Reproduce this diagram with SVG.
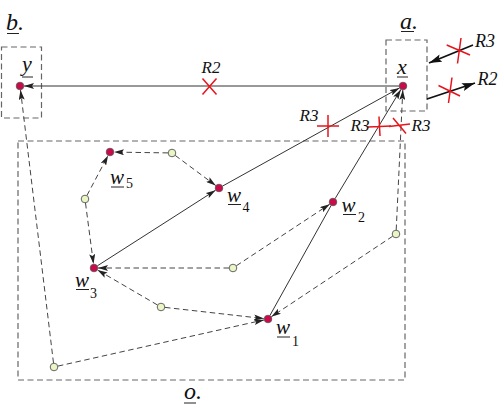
<svg xmlns="http://www.w3.org/2000/svg" width="503" height="415" viewBox="0 0 503 415">
<style>
.box{fill:none;stroke:#666;stroke-width:1.2;stroke-dasharray:6,3.5}
.sol{fill:none;stroke:#333;stroke-width:1}
.dsh{fill:none;stroke:#444;stroke-width:1;stroke-dasharray:5.5,3.5}
.big{fill:none;stroke:#111;stroke-width:1.8}
.red{fill:none;stroke:#e8141c;stroke-width:1.5}
.pt{fill:#cc0a4a;stroke:#555;stroke-width:0.8}
.gp{fill:#eaf6c6;stroke:#666;stroke-width:1}
.lb{font-family:"Liberation Serif",serif;font-style:italic;fill:#111}
.sb{font-family:"Liberation Serif",serif;fill:#111;font-size:14px}
.ul{stroke:#222;stroke-width:1}
</style>
<defs>
<marker id="ah" viewBox="0 0 10 6" refX="10" refY="3" markerWidth="10" markerHeight="6" orient="auto" markerUnits="userSpaceOnUse"><path d="M0,0 L10,3 L0,6 L2,3 z" fill="#222"/></marker>
<marker id="ahb" viewBox="0 0 13 8" refX="13" refY="4" markerWidth="13" markerHeight="8" orient="auto" markerUnits="userSpaceOnUse"><path d="M0,0 L13,4 L0,8 L2.5,4 z" fill="#111"/></marker>
</defs>

<g id="boxes">
<rect class="box" x="1.5" y="47" width="40" height="71"/>
<rect class="box" x="386" y="40" width="41" height="71"/>
<rect class="box" x="18" y="141" width="387" height="239"/>
<text class="lb" x="6" y="30" font-size="24">b.</text>
<line class="ul" x1="7" y1="33.5" x2="19" y2="33.5"/>
<text class="lb" x="400" y="28.5" font-size="24">a.</text>
<line class="ul" x1="401" y1="31.5" x2="414" y2="31.5"/>
<text class="lb" x="184" y="399" font-size="24">o.</text>
<line class="ul" x1="184" y1="403" x2="196" y2="403"/>
</g>

<g id="connectors">
<line class="sol" x1="399" y1="86" x2="24" y2="86" marker-end="url(#ah)"/>
<line class="sol" x1="97.4" y1="265.8" x2="215.6" y2="190.2" marker-end="url(#ah)"/>
<line class="sol" x1="222.5" y1="186.1" x2="399.5" y2="87.9" marker-end="url(#ah)"/>
<line class="sol" x1="269.9" y1="315.5" x2="331.1" y2="205.5"/>
<line class="sol" x1="335.1" y1="198.6" x2="400.9" y2="89.4" marker-end="url(#ah)"/>
<line class="dsh" x1="168" y1="152.9" x2="114" y2="152.1" marker-end="url(#ah)"/>
<line class="dsh" x1="175.2" y1="155.4" x2="215.8" y2="185.6" marker-end="url(#ah)"/>
<line class="dsh" x1="86.9" y1="195.5" x2="108.1" y2="155.5" marker-end="url(#ah)"/>
<line class="dsh" x1="85.5" y1="203" x2="93.5" y2="264" marker-end="url(#ah)"/>
<line class="dsh" x1="229" y1="268" x2="98" y2="268" marker-end="url(#ah)"/>
<line class="dsh" x1="236.3" y1="265.8" x2="329.7" y2="204.2" marker-end="url(#ah)"/>
<line class="dsh" x1="396.2" y1="230" x2="402.8" y2="90" marker-end="url(#ah)"/>
<line class="dsh" x1="392.7" y1="236.2" x2="271.3" y2="316.8" marker-end="url(#ah)"/>
<line class="dsh" x1="157.5" y1="305" x2="97.5" y2="270" marker-end="url(#ah)"/>
<line class="dsh" x1="165" y1="307.4" x2="264" y2="318.6" marker-end="url(#ah)"/>
<line class="dsh" x1="53.5" y1="363" x2="20.5" y2="90" marker-end="url(#ah)"/>
<line class="dsh" x1="57.9" y1="366.1" x2="264.1" y2="319.9" marker-end="url(#ah)"/>
<line class="big" x1="473" y1="45" x2="429" y2="63" marker-end="url(#ahb)"/>
<line class="big" x1="427" y1="99" x2="475" y2="83" marker-end="url(#ahb)"/>
</g>

<g id="cuts">
<path class="red" d="M202.5,78.5 L216.5,94.5 M216.5,78.5 L202.5,94.5"/>
<text class="lb" x="201.5" y="72.5" font-size="17">R2</text>
<path class="red" d="M317,126 L339,126 M328,115 L328,137"/>
<text class="lb" x="299.5" y="120.5" font-size="17">R3</text>
<path class="red" d="M368,127 L391,126 M379,116.5 L380,136"/>
<text class="lb" x="350.5" y="130.5" font-size="17">R3</text>
<path class="red" d="M389,126.5 L410,124 M393,118 L406,133.5"/>
<text class="lb" x="411.5" y="130.5" font-size="17">R3</text>
<path class="red" d="M446.7,45 L470,55 M461,38 L457.5,63.5"/>
<text class="lb" x="475" y="47" font-size="18">R3</text>
<path class="red" d="M438.5,85.5 L460,96 M452,77.5 L448.5,103"/>
<text class="lb" x="477.5" y="85" font-size="18">R2</text>
</g>

<g id="node-y">
<circle class="pt" cx="20" cy="86" r="3.8"/>
<text class="lb" x="22" y="71" font-size="22">y</text>
<line class="ul" x1="22" y1="77" x2="33" y2="77"/>
</g>
<g id="node-x">
<circle class="pt" cx="403" cy="86" r="3.8"/>
<text class="lb" x="397" y="74" font-size="22">x</text>
<line class="ul" x1="397" y1="77" x2="408" y2="77"/>
</g>
<g id="node-w5">
<circle class="pt" cx="110" cy="152" r="3.8"/>
<text class="lb" x="110" y="184" font-size="21">w</text>
<line class="ul" x1="111" y1="187" x2="124" y2="187"/>
<text class="sb" x="126" y="188">5</text>
</g>
<g id="node-w4">
<circle class="pt" cx="219" cy="188" r="3.8"/>
<text class="lb" x="227" y="201.5" font-size="21">w</text>
<line class="ul" x1="228" y1="204.5" x2="241" y2="204.5"/>
<text class="sb" x="242.5" y="212">4</text>
</g>
<g id="node-w3">
<circle class="pt" cx="94" cy="268" r="3.8"/>
<text class="lb" x="75" y="286.5" font-size="21">w</text>
<line class="ul" x1="76" y1="289.5" x2="89" y2="289.5"/>
<text class="sb" x="90" y="298">3</text>
</g>
<g id="node-w2">
<circle class="pt" cx="333" cy="202" r="3.8"/>
<text class="lb" x="341.5" y="211.5" font-size="21">w</text>
<line class="ul" x1="343" y1="214.5" x2="356" y2="214.5"/>
<text class="sb" x="358" y="222">2</text>
</g>
<g id="node-w1">
<circle class="pt" cx="268" cy="319" r="3.8"/>
<text class="lb" x="276" y="334" font-size="21">w</text>
<line class="ul" x1="277" y1="337" x2="290" y2="337"/>
<text class="sb" x="292" y="346">1</text>
</g>
<g id="node-g1"><circle class="gp" cx="172" cy="153" r="3.8"/></g>
<g id="node-g2"><circle class="gp" cx="85" cy="199" r="3.8"/></g>
<g id="node-g3"><circle class="gp" cx="233" cy="268" r="3.8"/></g>
<g id="node-g4"><circle class="gp" cx="396" cy="234" r="3.8"/></g>
<g id="node-g5"><circle class="gp" cx="161" cy="307" r="3.8"/></g>
<g id="node-g6"><circle class="gp" cx="54" cy="367" r="3.8"/></g>
</svg>
